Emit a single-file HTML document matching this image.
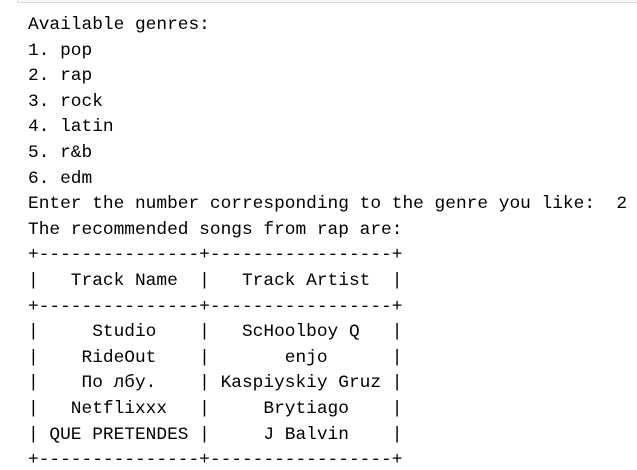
<!DOCTYPE html>
<html><head><meta charset="utf-8"><style>
html,body{margin:0;padding:0;background:#fff;width:637px;height:470px;overflow:hidden;position:relative}
.bar{position:absolute;left:17px;top:-10px;width:640px;height:13px;background:#f7f7f7;border:1px solid #dcdcdc;box-sizing:border-box}
pre{position:absolute;left:28px;top:13px;margin:0;font-family:"Liberation Mono","DejaVu Sans Mono",monospace;font-size:17.83px;line-height:25.6px;color:#000}
</style></head><body>
<div class="bar"></div>
<pre>Available genres:
1. pop
2. rap
3. rock
4. latin
5. r&amp;b
6. edm
Enter the number corresponding to the genre you like:  2
The recommended songs from rap are:
+---------------+-----------------+
|   Track Name  |   Track Artist  |
+---------------+-----------------+
|     Studio    |   ScHoolboy Q   |
|    RideOut    |       enjo      |
|    По лбу.    | Kaspiyskiy Gruz |
|   Netflixxx   |     Brytiago    |
| QUE PRETENDES |     J Balvin    |
+---------------+-----------------+</pre>
</body></html>
